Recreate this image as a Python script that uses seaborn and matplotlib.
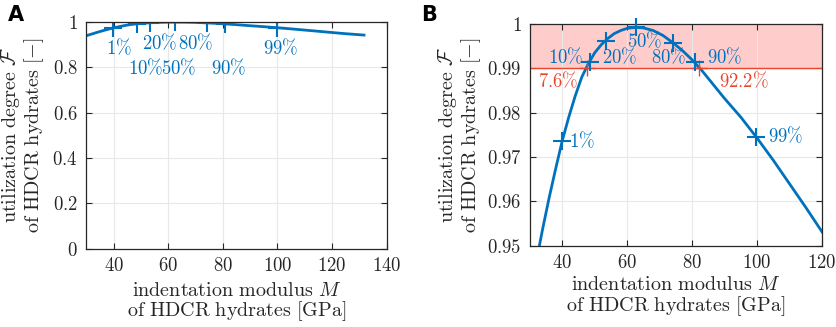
import numpy as np
import pandas as pd
import matplotlib
matplotlib.use("Agg")
import matplotlib.pyplot as plt
import seaborn as sns
from matplotlib.ticker import FuncFormatter

# curve: utilization degree vs indentation modulus
modulus = [30, 32, 34, 36, 38, 40, 42, 44, 46, 48, 50, 52, 54, 56, 58, 60, 62.6, 65,
           68, 71, 74, 77, 80, 83, 86, 90, 95, 100, 105, 110, 115, 120, 125, 131.7]
util = [0.939, 0.9465, 0.9540, 0.9610, 0.9675, 0.9737, 0.9790, 0.9838, 0.9880, 0.9910,
        0.9935, 0.9953, 0.9967, 0.9978, 0.9985, 0.9990, 0.9992, 0.9991, 0.9985, 0.9974,
        0.9958, 0.9940, 0.9919, 0.9895, 0.9868, 0.9832, 0.9790, 0.9743, 0.9693, 0.9640,
        0.9587, 0.9532, 0.9480, 0.9420]

# quantile markers
q_labels = ["1%", "10%", "20%", "50%", "80%", "90%", "99%"]
q_modulus = [39.8, 48.6, 53.5, 62.6, 74.2, 80.9, 99.8]
q_util = [0.9737, 0.9915, 0.9961, 0.9992, 0.9958, 0.9914, 0.9745]

# threshold crossings
thr_level = 0.99
thr_labels = ["7.6%", "92.2%"]
thr_modulus = [47.6, 82.1]

blue = "#0072BD"
red = "#E8452C"
grey = "#262626"

plt.rcParams["mathtext.fontset"] = "cm"
plt.rcParams["font.family"] = "serif"
plt.rcParams["font.size"] = 14

curve = pd.DataFrame({"M": modulus, "F": util})
quant = pd.DataFrame({"M": q_modulus, "F": q_util, "lab": q_labels})

fig = plt.figure(figsize=(8.37, 3.27), dpi=100)
axA = fig.add_axes([0.103, 0.239, 0.359, 0.694])
axB = fig.add_axes([0.633, 0.248, 0.349, 0.679])

xlab = r"$\mathrm{indentation\ modulus}\ M$" + "\n" + r"$\mathrm{of\ HDCR\ hydrates\ [GPa]}$"
ylab = r"$\mathrm{utilization\ degree}\ \mathcal{F}$" + "\n" + r"$\mathrm{of\ HDCR\ hydrates\ [-]}$"
fmt = FuncFormatter(lambda v, p: r"$%g$" % round(v, 4))
tfs = 13.5


def style(ax, ylx, xly):
    ax.grid(True, color="#e8e8e8", lw=0.8)
    ax.set_axisbelow(True)
    for s in ax.spines.values():
        s.set_color(grey)
        s.set_linewidth(0.9)
    ax.tick_params(direction="in", top=True, right=True, length=4, colors=grey,
                   labelsize=13.5, pad=6)
    ax.xaxis.set_major_formatter(fmt)
    ax.yaxis.set_major_formatter(fmt)
    ax.set_xlabel(xlab, fontsize=14.5, color=grey, linespacing=1.0)
    ax.set_ylabel(ylab, fontsize=14.5, color=grey, linespacing=1.0)
    ax.yaxis.set_label_coords(ylx, 0.5)
    ax.xaxis.set_label_coords(0.5, xly)


# panel A
sns.lineplot(data=curve, x="M", y="F", ax=axA, color=blue, lw=2, sort=False)
axA.plot(quant["M"], quant["F"], ls="none", marker="+", ms=13, mew=1.5, color=blue)
axA.set_xlim(30, 140)
axA.set_ylim(0, 1)
axA.set_xticks([40, 60, 80, 100, 120, 140])
axA.set_yticks([0, 0.2, 0.4, 0.6, 0.8, 1])
style(axA, -0.135, -0.14)
posA = {"1%": (41.9, 0.884), "20%": (56.9, 0.906), "80%": (70.2, 0.906), "99%": (101.0, 0.884),
        "10%": (51.8, 0.796), "50%": (63.9, 0.796), "90%": (82.2, 0.796)}
for lab in q_labels:
    x, y = posA[lab]
    axA.text(x, y, r"$%s\%%$" % lab[:-1], color=blue, fontsize=tfs, ha="center", va="center")

# panel B
axB.axhspan(thr_level, 1.0, color="#FFCCCC", lw=0, zorder=0.5)
axB.axhline(thr_level, color=red, lw=1, zorder=1)
sns.lineplot(data=curve, x="M", y="F", ax=axB, color=blue, lw=2, sort=False)
axB.plot(thr_modulus, [thr_level] * 2, ls="none", marker="+", ms=11, mew=1.0, color=red)
axB.plot(quant["M"], quant["F"], ls="none", marker="+", ms=13, mew=1.5, color=blue,
         zorder=4, clip_on=False)
axB.set_xlim(30, 120)
axB.set_ylim(0.95, 1)
axB.set_xticks([40, 60, 80, 100, 120])
axB.set_yticks([0.95, 0.96, 0.97, 0.98, 0.99, 1])
style(axB, -0.16, -0.13)
posB = {"1%": (42.2, 0.9737, "left"), "10%": (46.6, 0.9926, "right"), "20%": (52.2, 0.9926, "left"),
        "50%": (59.8, 0.9961, "left"), "80%": (78.1, 0.9926, "right"),
        "90%": (84.7, 0.9926, "left"), "99%": (103.5, 0.9747, "left")}
for lab in q_labels:
    x, y, ha = posB[lab]
    axB.text(x, y, r"$%s\%%$" % lab[:-1], color=blue, fontsize=tfs, ha=ha, va="center")
axB.text(32.4, 0.9872, r"$7.6\%$", color=red, fontsize=tfs, ha="left", va="center")
axB.text(88.2, 0.9872, r"$92.2\%$", color=red, fontsize=tfs, ha="left", va="center")

fig.text(0.01, 0.985, "A", fontsize=15, fontweight="bold", family="DejaVu Sans", va="top")
fig.text(0.503, 0.985, "B", fontsize=15, fontweight="bold", family="DejaVu Sans", va="top")

fig.savefig("out.png", dpi=100)
